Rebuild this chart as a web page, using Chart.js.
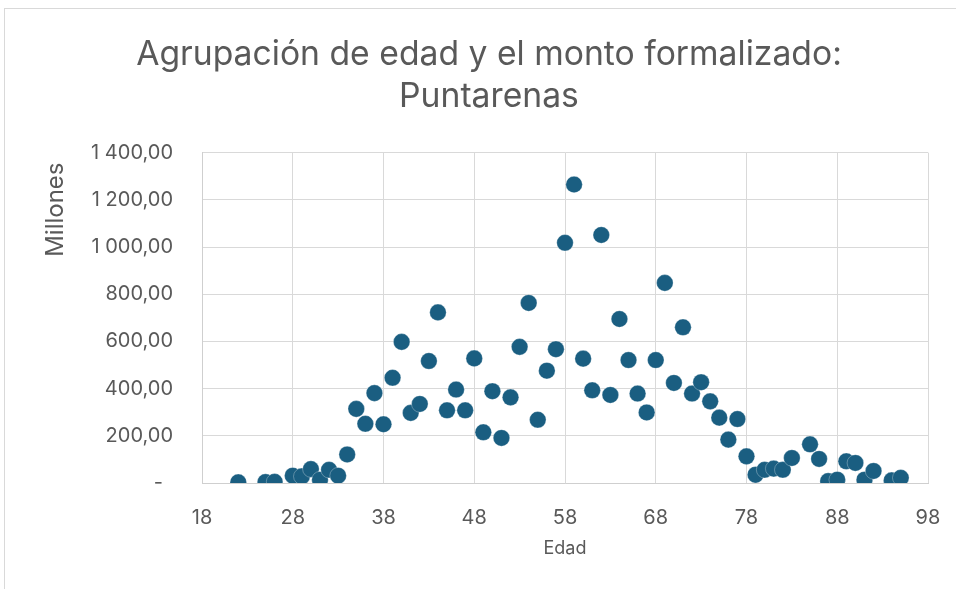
<!DOCTYPE html>
<html>
<head>
<meta charset="utf-8">
<script src="https://cdn.jsdelivr.net/npm/chart.js@4.4.1/dist/chart.umd.min.js"></script>
<style>
  html, body { margin: 0; padding: 0; background: #fff; overflow: hidden; width: 956px; height: 589px; }
  #frame { position: absolute; left: 4px; top: 8px; width: 960px; height: 600px; border: 1px solid #d9d9d9; box-sizing: border-box; }
  #wrap { position: absolute; left: 0; top: 0; width: 956px; height: 589px; }
</style>
</head>
<body>
<div id="frame"></div>
<div id="wrap"><canvas id="chart"></canvas></div>
<script>
const edades = [22, 25, 26, 28, 29, 30, 31, 32, 33, 34, 35, 36, 37, 38, 39, 40, 41, 42, 43, 44,
  45, 46, 47, 48, 49, 50, 51, 52, 53, 54, 55, 56, 57, 58, 59, 60, 61, 62, 63, 64,
  65, 66, 67, 68, 69, 70, 71, 72, 73, 74, 75, 76, 77, 78, 79, 80, 81, 82, 83, 85,
  86, 87, 88, 89, 90, 91, 92, 94, 95];
const montos = [3, 4, 5, 31, 28, 59, 14, 56, 31, 121, 314, 251, 381, 249, 446, 598, 297, 335, 517, 723,
  308, 396, 308, 528, 215, 389, 191, 363, 577, 763, 268, 476, 567, 1018, 1265, 527, 393, 1051, 373, 695,
  521, 379, 299, 521, 848, 424, 660, 379, 427, 346, 277, 184, 271, 113, 35, 56, 61, 56, 106, 164,
  102, 8, 14, 92, 85, 14, 51, 11, 22];
const xTicks = [18, 28, 38, 48, 58, 68, 78, 88, 98];
const yTicks = [0, 200, 400, 600, 800, 1000, 1200, 1400];

const gray = '#595959';
const gridColor = '#d9d9d9';
const font = 'Inter, "Liberation Sans", sans-serif';

const fmt = v => {
  if (v === 0) return '-\u2002';
  const s = String(Math.round(v)).replace(/\B(?=(\d{3})+(?!\d))/g, ' ');
  return s + ',00';
};

// axis titles drawn by hand: Excel puts "Millones" near the top of the axis
const axisTitles = {
  id: 'axisTitles',
  afterDraw(chart) {
    const {ctx, chartArea} = chart;
    ctx.save();
    ctx.fillStyle = gray;
    ctx.textAlign = 'center';
    ctx.textBaseline = 'middle';
    ctx.font = '18px ' + font;
    ctx.fillText('Edad', (chartArea.left + chartArea.right) / 2, chartArea.bottom + 66);
    ctx.translate(56, chartArea.top + 57);
    ctx.rotate(-Math.PI / 2);
    ctx.font = '24px ' + font;
    ctx.fillText('Millones', 0, 0);
    ctx.restore();
  }
};

new Chart(document.getElementById('chart'), {
  type: 'scatter',
  data: {
    datasets: [{
      label: 'Monto',
      data: edades.map((e, i) => ({x: e, y: montos[i]})),
      backgroundColor: '#1a5e81',
      borderColor: 'rgba(255,255,255,0.5)',
      borderWidth: 0.6,
      pointRadius: 8.3,
      pointHoverRadius: 8.3
    }]
  },
  options: {
    responsive: true,
    maintainAspectRatio: false,
    animation: false,
    layout: {padding: {left: 50, right: 28, top: 0, bottom: 0}},
    plugins: {
      legend: {display: false},
      tooltip: {enabled: false},
      title: {
        display: true,
        text: ['Agrupación de edad y el monto formalizado:', 'Puntarenas'],
        color: gray,
        font: {family: font, size: 33.7, weight: 'normal', lineHeight: 1.25},
        padding: {top: 34, bottom: 34.4}
      }
    },
    scales: {
      x: {
        type: 'linear',
        min: 18,
        max: 98,
        afterBuildTicks: s => { s.ticks = xTicks.map(v => ({value: v})); },
        afterFit: s => { s.height = 106; s.paddingRight = 0; s.paddingLeft = 0; },
        grid: {color: gridColor, lineWidth: 1, drawTicks: false},
        border: {color: '#cfcfcf', width: 1},
        ticks: {color: gray, padding: 23, font: {family: font, size: 20}}
      },
      y: {
        min: 0,
        max: 1400,
        afterBuildTicks: s => { s.ticks = yTicks.map(v => ({value: v})); },
        afterFit: s => { s.width = 152; },
        grid: {color: gridColor, lineWidth: 1, drawTicks: false},
        border: {color: '#cfcfcf', width: 1},
        ticks: {color: gray, padding: 29, font: {family: font, size: 20}, callback: fmt}
      }
    }
  },
  plugins: [axisTitles]
});
</script>
</body>
</html>
